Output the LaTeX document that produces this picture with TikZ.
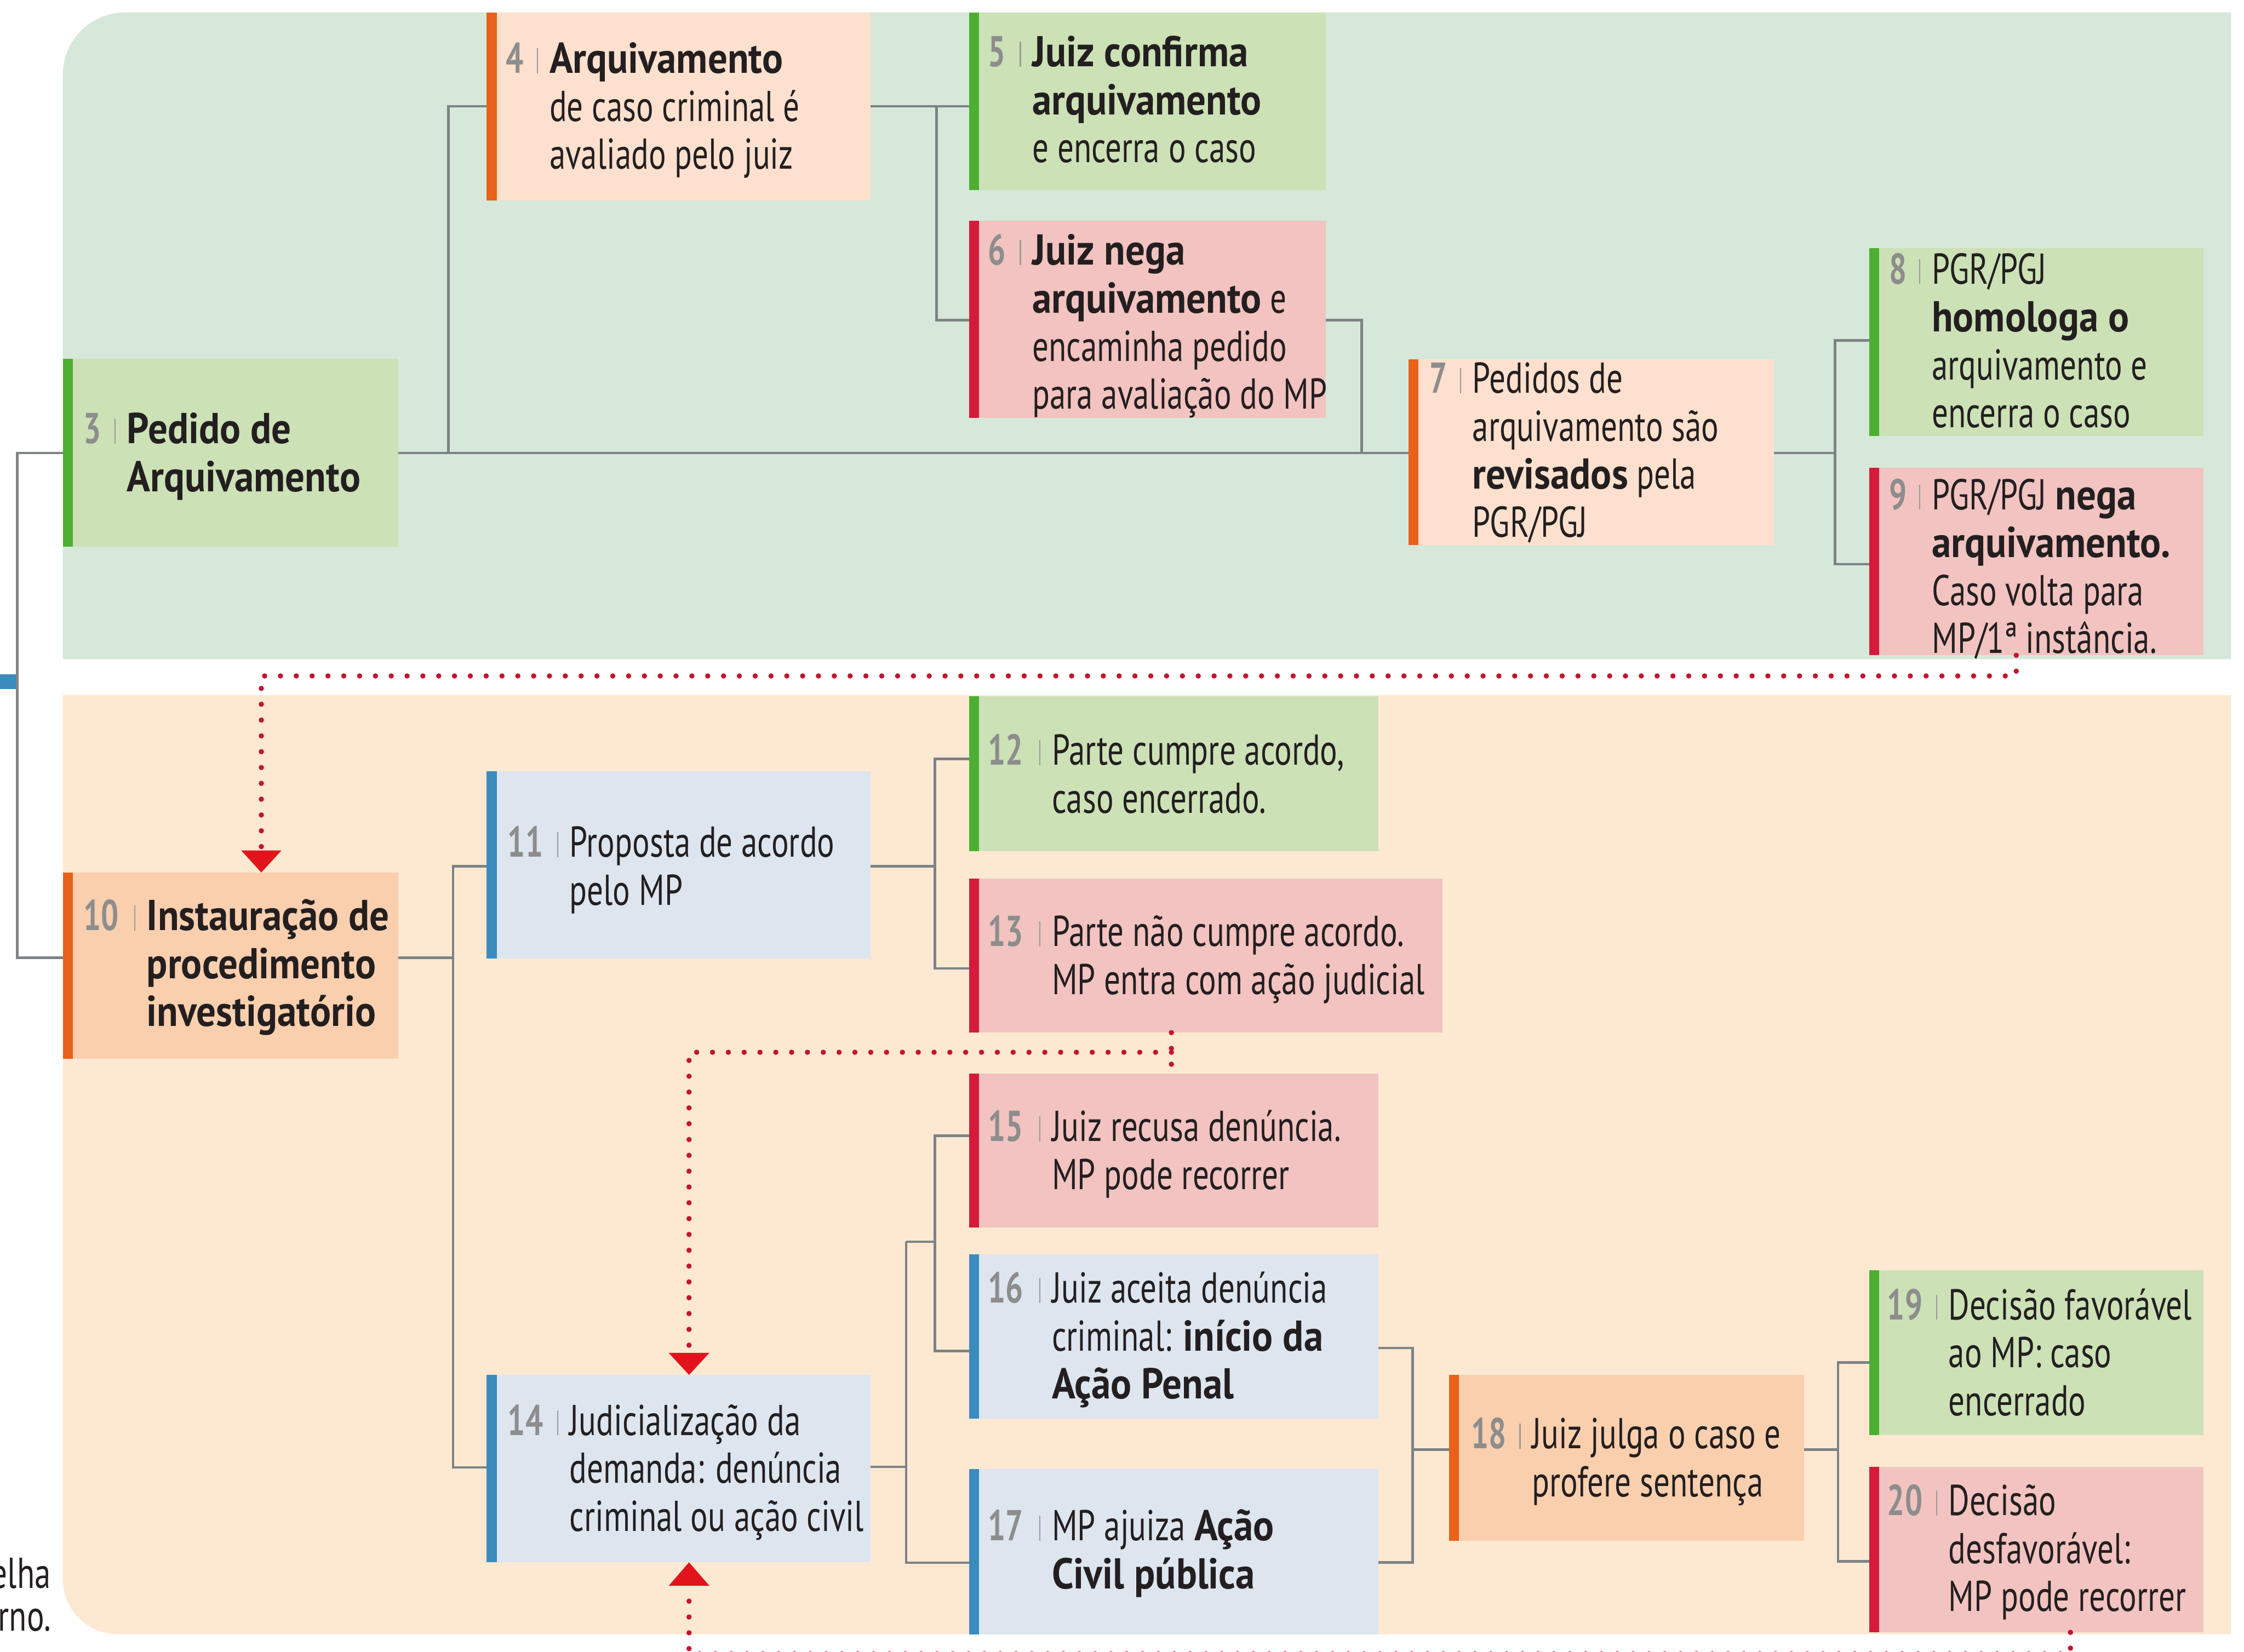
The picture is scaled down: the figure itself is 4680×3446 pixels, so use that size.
\documentclass[tikz,border=0pt]{standalone}
\usepackage{fontspec}
\usepackage{graphicx}
\setmainfont{PT Sans}[FakeStretch=0.75, BoldFeatures={FakeStretch=0.9}]
\usetikzlibrary{arrows.meta}
\definecolor{greenbg}{HTML}{D6E8D9}
\definecolor{peachbg}{HTML}{FDE9D2}
\definecolor{gfill}{HTML}{CCE1B6}
\definecolor{gbar}{HTML}{4CAF32}
\definecolor{rfill}{HTML}{F2C3C0}
\definecolor{rbar}{HTML}{D51A3C}
\definecolor{ofill}{HTML}{FDE0CE}
\definecolor{oofill}{HTML}{F9CFAE}
\definecolor{obar}{HTML}{E8621A}
\definecolor{bfill}{HTML}{DDE5EF}
\definecolor{bbar}{HTML}{3B8BBE}
\definecolor{conngrey}{HTML}{7D8285}
\definecolor{numgrey}{HTML}{8D8D8D}
\definecolor{sepgrey}{HTML}{9A9A9A}
\definecolor{textcol}{HTML}{231F20}
\definecolor{dotred}{HTML}{C3152F}
\definecolor{arrowred}{HTML}{E2141B}
\tikzset{
  boxbase/.style={rectangle, inner sep=0pt, outer sep=0pt, draw=none},
  numst/.style={anchor=base west, inner sep=0pt, text=numgrey, font={\fontsize{18}{20}\selectfont\bfseries}},
  txtst/.style={anchor=base west, inner sep=0pt, text=textcol, font=\fontsize{18}{20}\selectfont},
  sepst/.style={draw=sepgrey, line width=0.5pt},
  conn/.style={draw=conngrey, line width=1pt},
  dots/.style={draw=dotred, line width=2.2pt, line cap=round, dash pattern=on 0pt off 6.6pt},
}
\newcommand\mkbox[7]{%
  \node[boxbase, fill=#6, minimum width={(#4-#2)*0.2pt}, minimum height={(#5-#3)*0.2pt}] (#1) at ({(#2+#4)/2},{(#3+#5)/2}) {};
  \fill[#7] (#1.north west) rectangle ([xshift=4.2pt]#1.south west);
}
\newcommand\mktext[6]{%
  \node[numst] (n#1) at (#2,#4) {\scalebox{0.8}[1]{#5}};
  \draw[sepst] ({#3-24},#4) -- ({#3-24},{#4-52});
  \node[txtst] (t#1) at (#3,#4) {\begin{tabular}[t]{@{}l@{}}#6\end{tabular}};
}
\begin{document}
\begin{tikzpicture}[x=0.2pt,y=-0.2pt]
\useasboundingbox (0,0) rectangle (4680,3446);
\clip (0,0) rectangle (4680,3446);
\fill[white] (0,0) rectangle (4680,3446);
% panels
\fill[greenbg] (4653,1375) -- (131,1375) [rounded corners=26pt] -- (131,26) [sharp corners] -- (4653,26) -- cycle;
\fill[peachbg] (4653,1450) -- (4653,3409) [rounded corners=23pt] -- (131,3409) [sharp corners] -- (131,1450) -- cycle;
\fill[bbar] (0,1407) rectangle (33,1437);
% boxes
\mkbox{b3}{131}{748}{831}{1140}{gfill}{gbar}
\mkbox{b4}{1015}{26}{1815}{418}{ofill}{obar}
\mkbox{b5}{2021}{26}{2765}{396}{gfill}{gbar}
\mkbox{b6}{2021}{460}{2765}{872}{rfill}{rbar}
\mkbox{b7}{2937}{749}{3700}{1137}{ofill}{obar}
\mkbox{b8}{3898}{518}{4595}{909}{gfill}{gbar}
\mkbox{b9}{3898}{976}{4595}{1367}{rfill}{rbar}
\mkbox{b10}{131}{1820}{831}{2209}{oofill}{obar}
\mkbox{b11}{1015}{1609}{1815}{2000}{bfill}{bbar}
\mkbox{b12}{2021}{1452}{2875}{1776}{gfill}{gbar}
\mkbox{b13}{2021}{1833}{3008}{2154}{rfill}{rbar}
\mkbox{b14}{1015}{2868}{1815}{3259}{bfill}{bbar}
\mkbox{b15}{2021}{2239}{2875}{2561}{rfill}{rbar}
\mkbox{b16}{2021}{2616}{2875}{2959}{bfill}{bbar}
\mkbox{b17}{2021}{3064}{2875}{3409}{bfill}{bbar}
\mkbox{b18}{3022}{2868}{3762}{3214}{oofill}{obar}
\mkbox{b19}{3898}{2650}{4595}{2994}{gfill}{gbar}
\mkbox{b20}{3898}{3060}{4595}{3405}{rfill}{rbar}
% texts
\mktext{3}{173}{264}{925}{3}{\textbf{Pedido de}\\\textbf{Arquivamento}}
\mktext{4}{1054}{1145}{153}{4}{\textbf{Arquivamento}\\de caso criminal é\\avaliado pelo juiz}
\mktext{5}{2060}{2152}{139}{5}{\textbf{Juiz confirma}\\\textbf{arquivamento}\\e encerra o caso}
\mktext{6}{2060}{2152}{553}{6}{\textbf{Juiz nega}\\\textbf{arquivamento} e\\encaminha pedido\\para avaliação do MP}
\mktext{7}{2981}{3070}{820}{7}{Pedidos de\\arquivamento são\\\textbf{revisados} pela\\PGR/PGJ}
\mktext{8}{3939}{4028}{592}{8}{PGR/PGJ\\\textbf{homologa o}\\arquivamento e\\encerra o caso}
\mktext{9}{3939}{4028}{1063}{9}{PGR/PGJ \textbf{nega}\\\textbf{arquivamento.}\\Caso volta para\\MP/1ª instância.}
\mktext{10}{173}{305}{1941}{10}{\textbf{Instauração de}\\\textbf{procedimento}\\\textbf{investigatório}}
\mktext{11}{1058}{1187}{1788}{11}{Proposta de acordo\\pelo MP}
\mktext{12}{2060}{2193}{1596}{12}{Parte cumpre acordo,\\caso encerrado.}
\mktext{13}{2060}{2193}{1974}{13}{Parte não cumpre acordo.\\MP entra com ação judicial}
\mktext{14}{1058}{1187}{2994}{14}{Judicialização da\\demanda: denúncia\\criminal ou ação civil}
\mktext{15}{2060}{2193}{2381}{15}{Juiz recusa denúncia.\\MP pode recorrer}
\mktext{16}{2060}{2193}{2718}{16}{Juiz aceita denúncia\\criminal: \textbf{início da}\\\textbf{Ação Penal}}
\mktext{17}{2060}{2193}{3214}{17}{MP ajuiza \textbf{Ação}\\\textbf{Civil pública}}
\mktext{18}{3067}{3194}{3022}{18}{Juiz julga o caso e\\profere sentença}
\mktext{19}{3935}{4063}{2753}{19}{Decisão favorável\\ao MP: caso\\encerrado}
\mktext{20}{3935}{4063}{3161}{20}{Decisão\\desfavorável:\\MP pode recorrer}
% side text
\node[txtst, anchor=base east] (side1) at (107,3313) {elha};
\node[txtst, anchor=base east] (side2) at (107,3402) {orno.};
% connectors
\coordinate (L1) at (36,945); \coordinate (L2) at (36,1998);
\draw[conn] (b3.west |- L1) -- (L1) -- (L2) -- (b10.west |- L2);
\coordinate (J3) at (935,945); \coordinate (J3u) at (935,222);
\draw[conn] (b3.east |- J3) -- (b7.west |- J3);
\draw[conn] (J3) -- (J3u) -- (b4.west |- J3u);
\coordinate (J4) at (1953,222); \coordinate (J4d) at (1953,668);
\draw[conn] (b4.east |- J4) -- (b5.west |- J4);
\draw[conn] (J4) -- (J4d) -- (b6.west |- J4d);
\coordinate (J6) at (2840,668); \coordinate (J6d) at (2840,945);
\draw[conn] (b6.east |- J6) -- (J6) -- (J6d);
\coordinate (J7) at (3827,945); \coordinate (J7u) at (3827,710); \coordinate (J7d) at (3827,1177);
\draw[conn] (b7.east |- J7) -- (J7);
\draw[conn] (b8.west |- J7u) -- (J7u) -- (J7d) -- (b9.west |- J7d);
\coordinate (J10) at (945,1998); \coordinate (J10u) at (945,1807); \coordinate (J10d) at (945,3061);
\draw[conn] (b10.east |- J10) -- (J10);
\draw[conn] (b11.west |- J10u) -- (J10u) -- (J10d) -- (b14.west |- J10d);
\coordinate (J11) at (1950,1807); \coordinate (J11u) at (1950,1583); \coordinate (J11d) at (1950,2020);
\draw[conn] (b11.east |- J11) -- (J11);
\draw[conn] (b12.west |- J11u) -- (J11u) -- (J11d) -- (b13.west |- J11d);
\coordinate (J14) at (1890,3060); \coordinate (J14u) at (1890,2590); \coordinate (J14d) at (1890,3260);
\draw[conn] (b14.east |- J14) -- (J14);
\draw[conn] (J14u) -- (J14d) -- (b17.west |- J14d);
\coordinate (J15) at (1950,2590); \coordinate (J15u) at (1950,2369); \coordinate (J15d) at (1950,2818);
\draw[conn] (J14u) -- (J15);
\draw[conn] (b15.west |- J15u) -- (J15u) -- (J15d) -- (b16.west |- J15d);
\coordinate (J18u) at (2946,2812); \coordinate (J18d) at (2946,3259); \coordinate (J18) at (2946,3024);
\draw[conn] (b16.east |- J18u) -- (J18u) -- (J18d) -- (b17.east |- J18d);
\draw[conn] (J18) -- (b18.west |- J18);
\coordinate (J19) at (3833,3024); \coordinate (J19u) at (3833,2842); \coordinate (J19d) at (3833,3257);
\draw[conn] (b18.east |- J19) -- (J19);
\draw[conn] (b19.west |- J19u) -- (J19u) -- (J19d) -- (b20.west |- J19d);
% dotted connectors
\coordinate (d1a) at (4205,1410); \coordinate (d1b) at (545,1410); \coordinate (ar1) at (545,1774);
\draw[dots] (b9.south -| d1a) -- (d1a) -- (d1b) -- (ar1);
\fill[arrowred] ([xshift=-8.4pt]ar1) -- ([xshift=8.4pt]ar1) -- (b10.north -| ar1) -- cycle;
\coordinate (d2a) at (2443,2195); \coordinate (d2b) at (1437,2195); \coordinate (ar2) at (1437,2822);
\draw[dots] (b13.south -| d2a) -- (b15.north -| d2a);
\draw[dots] (d2a) -- (d2b) -- (ar2);
\fill[arrowred] ([xshift=-8.5pt]ar2) -- ([xshift=8.5pt]ar2) -- (b14.north -| ar2) -- cycle;
\coordinate (d3a) at (4318,3450); \coordinate (d3b) at (1437,3450); \coordinate (ar3) at (1437,3308);
\draw[dots] (b20.south -| d3a) -- (d3a) -- (d3b) -- (ar3);
\fill[arrowred] ([xshift=-8.5pt]ar3) -- ([xshift=8.5pt]ar3) -- (b14.south -| ar3) -- cycle;
\end{tikzpicture}
\end{document}
